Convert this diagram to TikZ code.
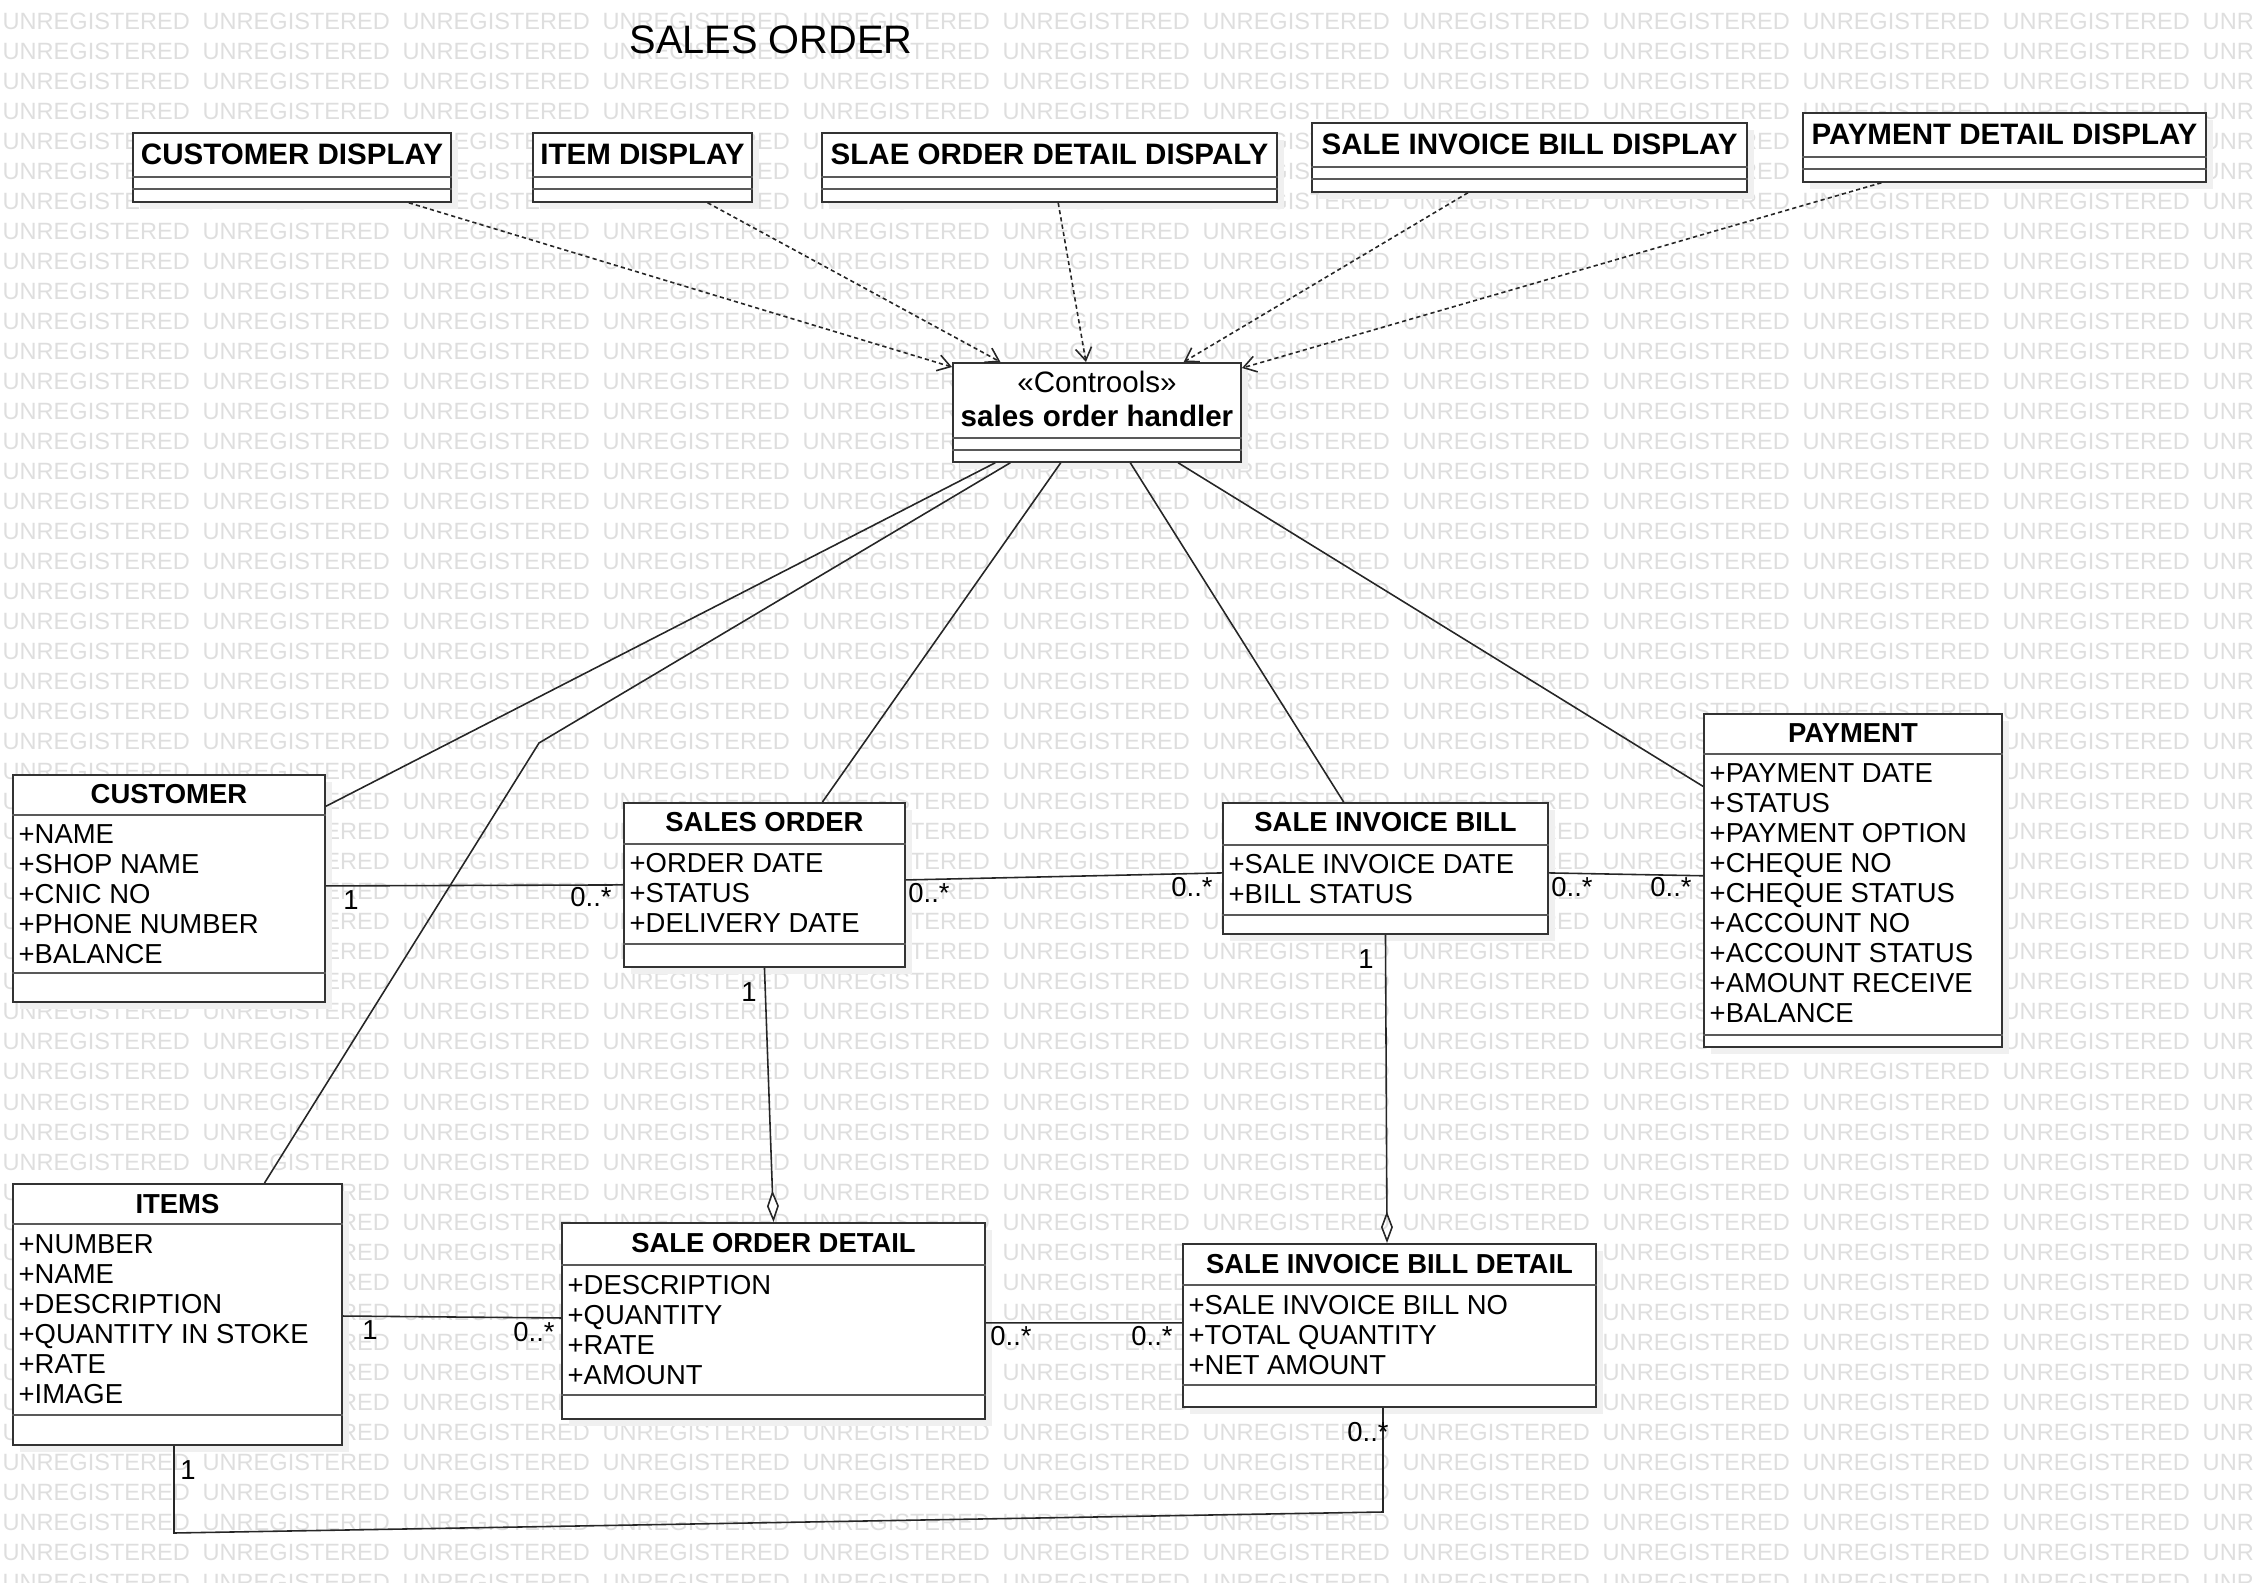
\documentclass[tikz,border=0pt]{standalone}
\usepackage{fontspec}
\setmainfont{Liberation Sans}
\usetikzlibrary{arrows.meta,calc,shadows}

\begin{document}
\begin{tikzpicture}[x=0.01cm,y=-0.01cm,
    caixa/.style={draw=black!80,fill=white,line width=0.5pt,inner sep=0pt,anchor=north west,
      drop shadow={shadow xshift=0.07cm,shadow yshift=-0.07cm,fill=black!6,opacity=1}},
    divisa/.style={draw=black!65,line width=0.6pt},
    nomecl/.style={font=\bfseries\fontsize{7.8}{9}\selectfont,anchor=base,inner sep=0pt},
    nomedisp/.style={font=\bfseries\fontsize{8.4}{10}\selectfont,anchor=base,inner sep=0pt},
    atrib/.style={font=\fontsize{7.8}{9}\selectfont,anchor=base west,inner sep=0pt},
    mult/.style={font=\fontsize{7.8}{9}\selectfont,inner sep=0pt},
    marca/.style={font=\fontsize{6.7}{8}\selectfont,text=black!13,anchor=base west,inner sep=0pt},
    depende/.style={draw=black!85,line width=0.45pt,dash pattern=on 1.2pt off 0.9pt,
      -{Straight Barb[length=3.6pt,width=4.6pt]}},
    assoc/.style={draw=black!85,line width=0.45pt},
    agreg/.style={assoc,-{Diamond[open,length=9pt,width=3.4pt]}}]
    \useasboundingbox (0,0) rectangle (2255,1583);

    % Marca d'agua
    \begin{scope}
        \clip (0,0) rectangle (2255,1583);
        \foreach \r in {0,...,52}
            \foreach \c in {0,...,11}
                \node[marca] (wm-\r-\c) at ({2+200*\c},{30+30*\r}) {UNREGISTERED};
    \end{scope}

    % Titulo
    \node[font=\fontsize{11.3}{13}\selectfont,anchor=base,inner sep=0pt] (titulo) at (771,54) {SALES ORDER};

    % Telas
    \foreach \b/\x/\y/\w/\t in {dispcust/132/132/3.18/CUSTOMER DISPLAY,
                                dispitem/532/132/2.19/ITEM DISPLAY,
                                dispsod/821/132/4.55/SLAE ORDER DETAIL DISPALY,
                                dispsib/1311/122/4.35/SALE INVOICE BILL DISPLAY,
                                disppay/1802/112/4.03/PAYMENT DETAIL DISPLAY} {
        \node[caixa,minimum width=\w cm,minimum height=0.69cm] (\b) at (\x,\y) {};
        \draw[divisa] ($(\b.north west)+(0,45)$) -- ($(\b.north east)+(0,45)$);
        \draw[divisa] ($(\b.north west)+(0,57)$) -- ($(\b.north east)+(0,57)$);
        \node[nomedisp] (\b-n) at ($(\b.north)+(0,33)$) {\t};
    }

    % Controle
    \node[caixa,minimum width=2.88cm,minimum height=0.99cm] (ctrl) at (952,362) {};
    \draw[divisa] ($(ctrl.north west)+(0,76)$) -- ($(ctrl.north east)+(0,76)$);
    \draw[divisa] ($(ctrl.north west)+(0,88)$) -- ($(ctrl.north east)+(0,88)$);
    \node[font=\fontsize{8.4}{10}\selectfont,anchor=base,inner sep=0pt] (ctrl-s) at ($(ctrl.north)+(0,31)$) {«Controols»};
    \node[nomedisp] (ctrl-n) at ($(ctrl.north)+(0,65)$) {sales order handler};

    % Classes
    \foreach \b/\x/\y/\w/\h/\sa/\sb/\t in {cust/12/774/3.12/2.27/41/199/CUSTOMER,
                                           so/623/802/2.81/1.64/42/142/SALES ORDER,
                                           sib/1222/802/3.25/1.31/43/113/SALE INVOICE BILL,
                                           pay/1703/713/2.98/3.33/41/322/PAYMENT,
                                           items/12/1183/3.29/2.61/41/232/ITEMS,
                                           sod/561/1222/4.23/1.96/43/173/SALE ORDER DETAIL,
                                           sibd/1182/1243/4.13/1.63/42/142/SALE INVOICE BILL DETAIL} {
        \node[caixa,minimum width=\w cm,minimum height=\h cm] (\b) at (\x,\y) {};
        \draw[divisa] ($(\b.north west)+(0,\sa)$) -- ($(\b.north east)+(0,\sa)$);
        \draw[divisa] ($(\b.north west)+(0,\sb)$) -- ($(\b.north east)+(0,\sb)$);
        \node[nomecl] (\b-n) at ($(\b.north)+(0,30)$) {\t};
    }

    % Atributos
    \foreach \a [count=\i] in {+NAME,+SHOP NAME,+CNIC NO,+PHONE NUMBER,+BALANCE}
        \node[atrib] (cust-a\i) at ($(cust.north west)+(6,{40+30*\i})$) {\a};
    \foreach \a [count=\i] in {+ORDER DATE,+STATUS,+DELIVERY DATE}
        \node[atrib] (so-a\i) at ($(so.north west)+(6,{41+30*\i})$) {\a};
    \foreach \a [count=\i] in {+SALE INVOICE DATE,+BILL STATUS}
        \node[atrib] (sib-a\i) at ($(sib.north west)+(6,{42+30*\i})$) {\a};
    \foreach \a [count=\i] in {+PAYMENT DATE,+STATUS,+PAYMENT OPTION,+CHEQUE NO,+CHEQUE STATUS,
                               +ACCOUNT NO,+ACCOUNT STATUS,+AMOUNT RECEIVE,+BALANCE}
        \node[atrib] (pay-a\i) at ($(pay.north west)+(6,{40+30*\i})$) {\a};
    \foreach \a [count=\i] in {+NUMBER,+NAME,+DESCRIPTION,+QUANTITY IN STOKE,+RATE,+IMAGE}
        \node[atrib] (items-a\i) at ($(items.north west)+(6,{40+30*\i})$) {\a};
    \foreach \a [count=\i] in {+DESCRIPTION,+QUANTITY,+RATE,+AMOUNT}
        \node[atrib] (sod-a\i) at ($(sod.north west)+(6,{42+30*\i})$) {\a};
    \foreach \a [count=\i] in {+SALE INVOICE BILL NO,+TOTAL QUANTITY,+NET AMOUNT}
        \node[atrib] (sibd-a\i) at ($(sibd.north west)+(6,{41+30*\i})$) {\a};

    % Dependencias
    \draw[depende] ($(dispcust.south west)!0.865!(dispcust.south east)$) -- ($(ctrl.north west)!0.05!(ctrl.south west)$);
    \draw[depende] ($(dispitem.south west)!0.795!(dispitem.south east)$) -- ($(ctrl.north west)!0.167!(ctrl.north east)$);
    \draw[depende] ($(dispsod.south west)!0.519!(dispsod.south east)$) -- ($(ctrl.north west)!0.462!(ctrl.north east)$);
    \draw[depende] ($(dispsib.south west)!0.359!(dispsib.south east)$) -- ($(ctrl.north west)!0.799!(ctrl.north east)$);
    \draw[depende] ($(disppay.south west)!0.196!(disppay.south east)$) -- ($(ctrl.north east)!0.06!(ctrl.south east)$);

    % Associacoes
    \coordinate (dobra) at (539,743);
    \coordinate (cantoE) at (174,1533);
    \coordinate (cantoD) at (1383,1512);
    \draw[assoc] ($(ctrl.south west)!0.149!(ctrl.south east)$) -- ($(cust.north east)!0.141!(cust.south east)$);
    \draw[assoc] ($(ctrl.south west)!0.201!(ctrl.south east)$) -- (dobra) -- ($(items.north west)!0.763!(items.north east)$);
    \draw[assoc] ($(ctrl.south west)!0.375!(ctrl.south east)$) -- ($(so.north west)!0.705!(so.north east)$);
    \draw[assoc] ($(ctrl.south west)!0.615!(ctrl.south east)$) -- ($(sib.north west)!0.372!(sib.north east)$);
    \draw[assoc] ($(ctrl.south west)!0.78!(ctrl.south east)$) -- ($(pay.north west)!0.219!(pay.south west)$);
    \draw[assoc] ($(cust.north east)!0.489!(cust.south east)$) -- (so.west);
    \draw[assoc] ($(so.north east)!0.47!(so.south east)$) -- ($(sib.north west)!0.534!(sib.south west)$);
    \draw[assoc] ($(sib.north east)!0.534!(sib.south east)$) -- ($(pay.north west)!0.486!(pay.south west)$);
    \draw[assoc] ($(items.north east)!0.506!(items.south east)$) -- ($(sod.north west)!0.485!(sod.south west)$);
    \draw[assoc] ($(sod.north east)!0.51!(sod.south east)$) -- ($(sibd.north west)!0.485!(sibd.south west)$);
    \draw[assoc] (cantoE |- items.south) -- (cantoE) -- (cantoD) -- (cantoD |- sibd.south);
    \draw[agreg] (so.south) -- (sod.north);
    \draw[agreg] (sib.south) -- ($(sibd.north west)!0.494!(sibd.north east)$);

    % Multiplicidades
    \node[mult] (m1) at (351,900) {1};
    \node[mult] (m2) at (591,897) {0..*};
    \node[mult] (m3) at (929,893) {0..*};
    \node[mult] (m4) at (1192,887) {0..*};
    \node[mult] (m5) at (1572,887) {0..*};
    \node[mult] (m6) at (1671,887) {0..*};
    \node[mult] (m7) at (749,992) {1};
    \node[mult] (m8) at (1366,959) {1};
    \node[mult] (m9) at (370,1330) {1};
    \node[mult] (m10) at (534,1332) {0..*};
    \node[mult] (m11) at (1011,1336) {0..*};
    \node[mult] (m12) at (1152,1336) {0..*};
    \node[mult] (m13) at (188,1470) {1};
    \node[mult] (m14) at (1368,1432) {0..*};
\end{tikzpicture}
\end{document}
